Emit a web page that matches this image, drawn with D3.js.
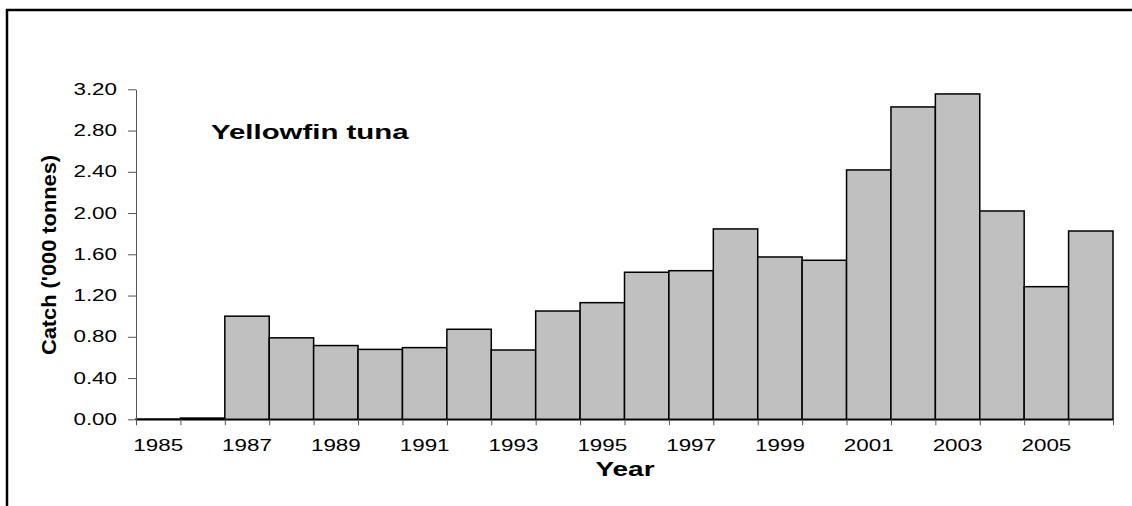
<!DOCTYPE html>
<html>
  <head>
    <meta charset="utf-8">
    <title>Yellowfin tuna catch</title>
    <script src="https://d3js.org/d3.v7.min.js"></script>
    <style>
      body { margin: 0; background: #fff; }
      text { font-family: Arial, "Liberation Sans", sans-serif; }
    </style>
  </head>
  <body>
    <svg width="1132" height="506"></svg>

    <script>
      // data
      const years = [1985, 1986, 1987, 1988, 1989, 1990, 1991, 1992, 1993, 1994, 1995,
                     1996, 1997, 1998, 1999, 2000, 2001, 2002, 2003, 2004, 2005, 2006];
      const catchValues = [0.003, 0.012, 1.00, 0.79, 0.715, 0.678, 0.695, 0.873, 0.672, 1.05, 1.131,
                           1.426, 1.441, 1.846, 1.574, 1.542, 2.418, 3.029, 3.155, 2.02, 1.286, 1.826];
      const yTicks = [0, 0.4, 0.8, 1.2, 1.6, 2.0, 2.4, 2.8, 3.2];
      const xLabelYears = [1985, 1987, 1989, 1991, 1993, 1995, 1997, 1999, 2001, 2003, 2005];

      const data = years.map((y, i) => ({ year: y, value: catchValues[i] }));

      // the original picture is stretched sideways, so text is widened too
      const stretch = 1.4;

      const plotLeft = 136, plotRight = 1113, plotTop = 89.3, plotBottom = 419.3;

      const x = d3.scaleBand()
        .domain(years)
        .range([plotLeft, plotRight])
        .padding(0);

      const xEdge = d3.scaleLinear()
        .domain([1985, 2007])
        .range([plotLeft, plotRight]);

      const y = d3.scaleLinear()
        .domain([0, 3.2])
        .range([plotBottom, plotTop]);

      const svg = d3.select("svg");

      // outer frame (runs off the right and bottom of the picture)
      svg.append("rect")
        .attr("x", 7)
        .attr("y", 10)
        .attr("width", 1200)
        .attr("height", 600)
        .attr("fill", "none")
        .attr("stroke", "#000")
        .attr("stroke-width", 2.5);

      // bars
      svg.append("g")
        .selectAll("rect")
        .data(data)
        .join("rect")
        .attr("x", d => x(d.year))
        .attr("y", d => y(d.value))
        .attr("width", x.bandwidth())
        .attr("height", d => y(0) - y(d.value))
        .attr("fill", "#c0c0c0")
        .attr("stroke", "#000")
        .attr("stroke-width", 1.5);

      // y axis
      const yAxis = svg.append("g")
        .attr("transform", `translate(${plotLeft},0)`)
        .call(d3.axisLeft(y)
          .tickValues(yTicks)
          .tickFormat(d3.format(".2f"))
          .tickSize(8)
          .tickSizeOuter(0));
      yAxis.select(".domain").attr("stroke", "#555");
      yAxis.selectAll(".tick line").attr("stroke", "#555");
      yAxis.selectAll(".tick text")
        .attr("font-size", 16)
        .attr("fill", "#000")
        .attr("font-family", "Arial, 'Liberation Sans', sans-serif")
        .attr("x", -19 / stretch)
        .attr("transform", `scale(${stretch},1)`);

      // x axis: ticks at year boundaries
      const xAxis = svg.append("g")
        .attr("transform", `translate(0,${plotBottom})`)
        .call(d3.axisBottom(xEdge)
          .tickValues(d3.range(1985, 2008))
          .tickFormat("")
          .tickSize(6)
          .tickSizeOuter(0));
      xAxis.select(".domain").attr("stroke", "#000").attr("stroke-width", 1.5);
      xAxis.selectAll(".tick line").attr("stroke", "#555");

      // x labels centred on bars, every other year
      svg.append("g")
        .selectAll("text")
        .data(xLabelYears)
        .join("text")
        .attr("transform", d => `translate(${x(d) + x.bandwidth() / 2},451) scale(${stretch},1)`)
        .attr("text-anchor", "middle")
        .attr("font-size", 16)
        .text(d => d);

      // axis titles
      svg.append("text")
        .attr("transform", `translate(625,476) scale(${stretch},1)`)
        .attr("text-anchor", "middle")
        .attr("font-size", 20)
        .attr("font-weight", "bold")
        .text("Year");

      svg.append("text")
        .attr("transform", "translate(56,255) rotate(-90)")
        .attr("text-anchor", "middle")
        .attr("font-size", 21)
        .attr("font-weight", "bold")
        .attr("textLength", 200)
        .attr("lengthAdjust", "spacingAndGlyphs")
        .text("Catch ('000 tonnes)");

      // species label
      svg.append("text")
        .attr("transform", `translate(211,139) scale(${stretch},1)`)
        .attr("font-size", 21)
        .attr("font-weight", "bold")
        .text("Yellowfin tuna");
    </script>
  </body>
</html>
